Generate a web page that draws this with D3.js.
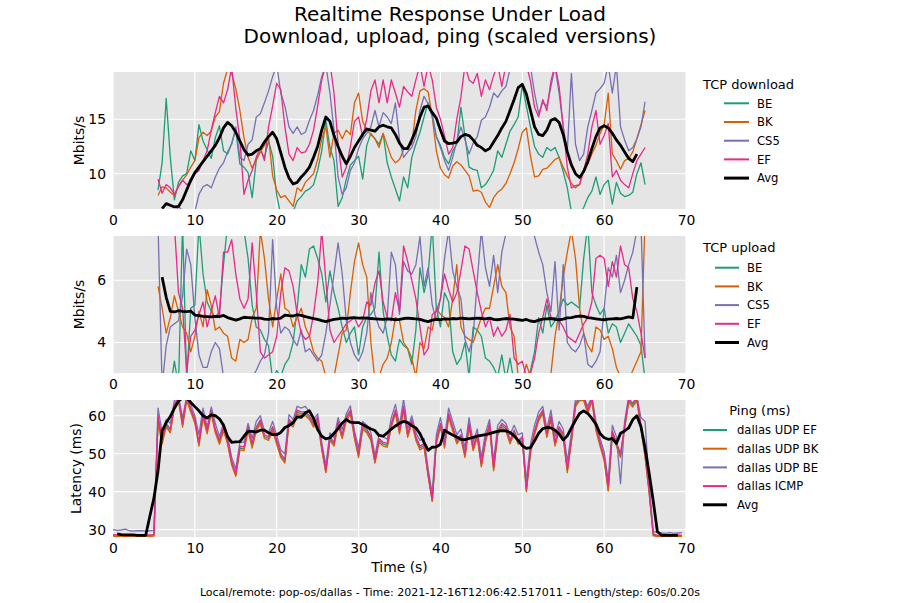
<!DOCTYPE html>
<html>
<head>
<meta charset="utf-8">
<script src="https://cdn.jsdelivr.net/npm/d3@7"></script>
<style>
  body { margin: 0; background: #fff; }
  svg { font-family: "DejaVu Sans", sans-serif; }
</style>
</head>
<body>
<div id="chart"></div>
<script>
// ---- data (0.5 s samples) ----
const step = 0.5;
const xTicks = [0, 10, 20, 30, 40, 50, 60, 70];
const colors = ["#1b9e77", "#d95f02", "#7570b3", "#e7298a"];
const tcpNames = ["BE", "BK", "CS5", "EF"];
const pingNames = ["dallas UDP EF", "dallas UDP BK", "dallas UDP BE", "dallas ICMP"];

// TCP download, Mbits/s, from t = 5.5
const dlStart = 5.5;
const dlBE = [8.5, 11, 16.9, 11.5, 7.6, 9.2, 9.8, 10, 12.1, 11.2,
  14.5, 13, 12.2, 11.4, 13.3, 14.4, 12.1, 11.8, 12.8, 14,
  10.9, 10.6, 10.1, 7.8, 11.2, 12.1, 11.5, 13, 11.6, 8,
  6.2, 5.8, 6.0, 6.5, 7.5, 7.9, 8.4, 8.6, 9, 10.3,
  12.1, 14.9, 12.4, 11.2, 7, 7.8, 9.5, 10.8, 11.2, 11.6,
  9.5, 12.6, 13.7, 13.2, 12.7, 13.7, 11.0, 9.7, 8.6, 7.5,
  9.7, 8.7, 11.5, 12.7, 13.8, 15.2, 16.5, 15.5, 13.4, 12.6,
  11.5, 10.9, 12.1, 12.7, 16.1, 13.4, 10.6, 10.4, 10.3, 8.7,
  9.0, 9.6, 10.3, 12.1, 11.5, 12.7, 13.9, 14.5, 15.2, 18.1,
  16.2, 14.3, 12.5, 11.8, 11.5, 12.4, 12.1, 12.4, 11.5, 10.2,
  8.7, 6.5, 6.0, 6.2, 6.9, 7.8, 8.4, 9.7, 8.1, 9.0,
  9.4, 7.2, 9.2, 8.2, 7.9, 8.0, 8.3, 10, 11, 9];
const dlBK = [8.0, 8.8, 8.7, 8.3, 8.0, 8.9, 9.4, 9.9, 10.6, 11.2,
  13.3, 13.8, 13.5, 13.9, 15.2, 15.7, 18.3, 19.6, 19.2, 17.8,
  15.8, 13.3, 11.5, 10.5, 11.3, 12, 12.6, 13.4, 9.8, 8.5,
  7.8, 8.0, 7.5, 7.0, 8.7, 8.4, 9.2, 9.6, 10, 11.3,
  13.2, 14.3, 11.5, 13.7, 14, 13.2, 14, 13.6, 16.5, 17.4,
  14.8, 14, 13.6, 13.2, 12.4, 13.7, 12.6, 11.5, 11.0, 11.3,
  12.2, 12.5, 12.7, 15.8, 17.6, 17.8, 17.5, 15.2, 12.1, 10.5,
  9.9, 9.6, 10.7, 11.1, 10.8, 10.3, 9.8, 8.4, 8.5, 8.3,
  7.4, 6.9, 7.8, 8.3, 8.6, 9.1, 10, 11.0, 12.3, 13.8,
  14.2, 11.6, 9.7, 9.8, 10.4, 10.5, 10.9, 11.3, 11.5, 10.6,
  9.8, 9.1, 8.7, 9.0, 10.4, 10.9, 11.8, 12.6, 13.7, 14.5,
  17.4, 11.8, 11.2, 10.4, 11.2, 11.4, 12, 13.2, 14.5, 15.8];
const dlCS5 = [6.0, 6.2, 6.0, 6.5, 6.3, 7.0, 6.6, 6.4, 6.3, 6.5,
  8.1, 8.8, 9.0, 8.7, 9.7, 10.5, 11.0, 12.0, 12.7, 14.3,
  11.5, 11.2, 12.7, 13.1, 15.2, 15.5, 16.5, 17.6, 18.9, 20,
  17.4, 16.2, 14.3, 13.7, 14.3, 13.6, 13.8, 14.9, 15.8, 17.2,
  18.9, 20, 17.4, 14.0, 9.7, 8.1, 8.7, 10.3, 11.0, 12.3,
  13.2, 13.7, 14.3, 15.8, 14.3, 15.6, 15.2, 14.6, 16.5, 13.1,
  11.5, 12.0, 12.4, 13.4, 15.8, 17.1, 16.4, 15.2, 13.4, 12.4,
  11.2, 10.3, 11.5, 13.0, 14.3, 13.1, 11.8, 12.8, 13.4, 14.9,
  15.2, 16.1, 17.4, 17.0, 17.6, 18.0, 19.6, 20.5, 21, 20.5,
  20, 19.8, 17.4, 15.5, 16.5, 16.2, 18, 19.8, 17.4, 14.3,
  12.1, 19.2, 12.7, 11.2, 11.8, 14.3, 15.8, 17.4, 17.8, 18.3,
  20, 17.4, 20, 14.3, 13.1, 12.1, 12.4, 13.2, 14.3, 16.6];
const dlEF = [9.5, 8.2, 9.0, 8.7, 8.1, 8.8, 9.4, 9.0, 9.2, 10.0,
  10.3, 11.2, 12.1, 14.0, 15.6, 17.1, 16.5, 17.7, 19.8, 16.0,
  13.1, 8.1, 9.4, 10.3, 11.5, 12.4, 11.2, 14.3, 16.2, 18.3,
  17.7, 14.3, 11.8, 11.2, 12.4, 11.9, 12.0, 12.7, 14.0, 16.2,
  18.6, 20, 20.2, 17.4, 12.7, 9.7, 10.6, 12.5, 14.8, 15.2,
  13.4, 15.0, 17.6, 18.6, 16.5, 18.6, 16.5, 18.6, 17.4, 16.1,
  18.0, 17.5, 17.1, 18.6, 20, 18.0, 20, 18.6, 16.1, 15.0,
  13.5, 11.8, 12.4, 15.0, 17.0, 20, 18.6, 18.3, 19.2, 17.1,
  18.6, 17.7, 19, 20, 18, 20, 20.5, 21, 20.5, 21,
  20, 18.5, 16.1, 15.2, 16.8, 15.8, 18.5, 20, 18, 14.3,
  10.6, 8.7, 8.9, 9.0, 10.3, 11.8, 14.3, 15.8, 12.7, 13.5,
  14.6, 9.7, 10.3, 9.4, 9.0, 8.7, 10.0, 11.2, 11.8, 12.4];
// average, from t = 6.0
const dlAvgStart = 6.0;
const dlAvg = [6.8, 7.25, 7.1, 6.95, 7.0, 7.6, 8.5, 9.4, 10.1,
  10.6, 11.1, 11.6, 12.1, 12.6, 13.3, 14.2, 14.7, 14.4, 13.8,
  13.0, 12.2, 11.7, 11.8, 12.1, 12.3, 12.9, 13.4, 13.8, 13.2,
  11.9, 10.6, 9.6, 9.05, 9.2, 9.7, 10.1, 10.6, 11.5, 12.5,
  14.0, 15.2, 14.8, 13.5, 12.5, 11.6, 10.9, 11.6, 12.4, 13.0,
  13.6, 14.1, 14.0, 13.9, 14.3, 14.45, 14.3, 14.2, 13.6, 12.8,
  12.3, 12.3, 13.1, 14.0, 15.2, 16.1, 16.2, 15.6, 15.1, 14.0,
  13.0, 12.75, 12.8, 12.9, 13.4, 13.6, 13.5, 13.1, 12.6, 12.4,
  12.1, 12.3, 12.9, 13.5, 14.2, 14.8, 15.8, 16.8, 17.9, 18.2,
  17.3, 15.8, 14.3, 13.6, 13.5, 14.0, 14.9, 15.05, 14.7, 13.6,
  12.0, 10.8, 10.0, 9.65, 10.2, 11.1, 12.3, 13.4, 14.2, 14.4,
  14.2, 13.7, 13.1, 12.6, 12.0, 11.4, 11.1, 11.8];

// TCP upload, Mbits/s, from t = 5.5
const ulStart = 5.5;
const ulBE = [2.5, 2.4, 2.6, 2.5, 3.4, 2.6, 7.8, 2.8, 5.1, 5.2,
  7.8, 6.2, 5.3, 5.0, 4.8, 5.0, 6.5, 7.8, 8.0, 8.2,
  8.0, 7.6, 6.7, 5.2, 4.5, 4.4, 4.1, 3.9, 2.8, 3.1,
  2.9, 3.3, 3.5, 4.0, 5.1, 6.5, 6.1, 7.0, 7.1, 6.7,
  6.2, 5.3, 6.3, 5.6, 5.1, 4.5, 4.0, 4.3, 4.5, 3.6,
  4.5, 4.8, 4.9, 5.1, 6.9, 5.0, 4.2, 3.6, 3.4, 4.1,
  3.9, 3.8, 3.3, 4.4, 6.4, 5.6, 6.2, 7.8, 5.1, 4.5,
  5.6, 5.3, 3.7, 3.3, 3.5, 4.0, 2.9, 4.5, 4.4, 4.2,
  3.5, 3.4, 3.2, 2.9, 3.6, 2.8, 3.5, 2.7, 2.6, 2.7,
  2.8, 3.1, 3.7, 4.8, 4.3, 5.2, 4.5, 4.7, 5.0, 5.4,
  5.2, 5.3, 5.2, 5.1, 6.7, 7.8, 5.6, 5.2, 4.9, 5.1,
  4.3, 4.6, 4.5, 4.0, 4.3, 4.6, 4.4, 4.2, 3.9, 2.8];
const ulBK = [5.8, 5.1, 4.3, 4.8, 5.5, 5.0, 4.5, 4.3, 3.7, 4.2,
  5.0, 4.5, 5.7, 5.2, 4.4, 4.5, 4.3, 4.2, 3.5, 3.4,
  4.1, 4.0, 4.1, 4.8, 5.1, 7.6, 6.7, 5.4, 4.5, 5.4,
  6.2, 5.1, 5.0, 4.5, 4.8, 5.1, 4.5, 4.2, 3.7, 3.5,
  3.4, 2.9, 2.7, 2.9, 3.6, 4.3, 4.4, 5.6, 6.6, 7.2,
  6.5, 6.1, 4.0, 2.8, 2.9, 3.3, 3.5, 4.0, 4.8, 4.7,
  4.0, 3.8, 3.5, 2.9, 4.0, 3.8, 4.5, 4.4, 5.1, 4.9,
  4.8, 4.5, 5.4, 6.5, 4.5, 4.2, 4.1, 4.0, 4.4, 4.8,
  5.1, 5.1, 5.8, 6.5, 5.8, 5.6, 4.5, 4.2, 2.9, 2.8,
  3.3, 2.9, 2.8, 2.6, 2.6, 2.8, 3.0, 4.2, 5.0, 6.1,
  6.9, 7.6, 6.7, 5.1, 4.3, 3.9, 3.7, 4.5, 4.4, 4.1,
  4.2, 3.8, 3.2, 2.9, 2.8, 2.8, 3.1, 3.4, 3.7, 8.0];
const ulCS5 = [7.8, 2.6, 3.9, 4.5, 4.6, 4.7, 5.5, 7.0, 6.5, 4.8,
  3.6, 3.2, 3.2, 3.7, 4.0, 3.8, 2.9, 2.6, 2.4, 2.3,
  2.4, 2.4, 2.6, 2.9, 3.1, 3.4, 3.6, 4.3, 7.3, 5.1,
  4.3, 4.5, 4.4, 4.1, 3.9, 4.4, 3.7, 3.8, 3.6, 3.4,
  3.6, 4.3, 5.2, 6.2, 7.2, 6.2, 4.7, 4.0, 3.6, 3.4,
  3.7, 4.3, 5.6, 4.9, 4.5, 4.3, 4.8, 6.9, 6.5, 4.9,
  6.6, 6.3, 6.2, 6.5, 7.4, 5.8, 6.4, 5.2, 4.7, 5.4,
  6.7, 7.6, 6.3, 5.8, 5.4, 4.1, 3.7, 4.2, 6.0, 7.6,
  6.4, 5.8, 6.8, 5.6, 6.9, 7.5, 7.8, 8.0, 8.2, 8.0,
  8.1, 7.8, 7.4, 6.9, 6.5, 5.6, 5.0, 6.6, 4.4, 6.5,
  4.0, 3.8, 3.7, 3.9, 4.3, 3.3, 3.2, 3.4, 3.7, 5.1,
  6.4, 6.1, 6.8, 5.6, 6.0, 6.5, 6.9, 7.6, 7.8, 3.5];
const ulEF = [7.8, 7.8, 7.6, 7.7, 7.8, 5.6, 5.1, 3.1, 4.2, 4.4,
  4.9, 5.3, 4.5, 5.0, 5.5, 4.8, 6.9, 6.9, 7.3, 6.2,
  5.4, 5.1, 5.4, 7.2, 5.6, 3.7, 3.5, 3.6, 3.7, 4.2,
  5.6, 6.4, 6.3, 5.8, 4.9, 4.3, 4.1, 4.2, 4.9, 5.9,
  7.6, 6.0, 4.4, 4.0, 4.2, 4.4, 4.6, 4.7, 4.8, 4.5,
  4.7, 5.3, 5.2, 5.9, 6.3, 5.3, 4.8, 4.7, 5.6, 5.0,
  7.1, 6.6, 6.0, 5.4, 4.5, 3.6, 3.8, 4.9, 5.0, 5.4,
  6.2, 5.7, 5.3, 5.6, 6.3, 7.1, 7.0, 6.3, 5.6, 5.0,
  4.5, 4.8, 4.2, 4.5, 4.2, 4.4, 4.9, 3.5, 3.3, 3.4,
  2.9, 3.0, 3.5, 4.3, 4.8, 5.4, 4.8, 4.8, 4.7, 4.5,
  4.2, 4.1, 4.0, 4.3, 4.6, 4.8, 5.3, 6.7, 6.8, 6.7,
  5.8, 6.6, 6.1, 7.1, 6.5, 6.4, 5.4, 5.0, 4.3, 3.5];
// average, from t = 6.0
const ulAvgStart = 6.0;
const ulAvg = [6.1, 5.45, 5.0, 4.98, 5.02, 5.0, 4.99, 5.01, 4.88,
  4.86, 4.84, 4.83, 4.82, 4.84, 4.83, 4.87, 4.8, 4.76, 4.72,
  4.76, 4.81, 4.8, 4.79, 4.78, 4.78, 4.75, 4.74, 4.77, 4.76,
  4.78, 4.88, 4.86, 4.85, 4.89, 4.87, 4.83, 4.8, 4.77, 4.74,
  4.7, 4.67, 4.71, 4.74, 4.76, 4.78, 4.77, 4.79, 4.8, 4.78,
  4.79, 4.78, 4.77, 4.76, 4.75, 4.74, 4.76, 4.75, 4.73, 4.74,
  4.77, 4.78, 4.77, 4.76, 4.74, 4.7, 4.67, 4.72, 4.74, 4.73,
  4.76, 4.75, 4.77, 4.76, 4.78, 4.77, 4.76, 4.77, 4.78, 4.77,
  4.76, 4.78, 4.74, 4.73, 4.75, 4.77, 4.76, 4.75, 4.73, 4.71,
  4.74, 4.69, 4.67, 4.72, 4.75, 4.76, 4.77, 4.74, 4.73, 4.75,
  4.79, 4.8, 4.83, 4.85, 4.84, 4.8, 4.78, 4.76, 4.74, 4.73,
  4.75, 4.76, 4.77, 4.76, 4.79, 4.82, 4.79, 5.78];

// Ping, ms, from t = 0
const pingStart = 0;
const pingEF = [28.4, 28.3, 28.4, 28.4, 28.3, 28.4, 28.4, 28.3, 28.4, 28.4,
  28.5, 59, 53.5, 57.5, 56, 62.5, 64.5, 57.5, 64.5, 61.5,
  58.5, 52.5, 60, 55.8, 61, 56, 53, 56.5, 53, 47.5,
  44.5, 51.5, 51.3, 56.6, 52.2, 56.5, 58.4, 54.5, 54, 56.6,
  53, 49.5, 48, 58.5, 57.5, 61, 60.5, 60.5, 59.5, 57.5,
  59.2, 51.5, 45.2, 54, 52.5, 58, 54.5, 59.2, 61, 54.5,
  49.5, 57, 56, 54, 47.8, 53.5, 52.5, 52.2, 57.5, 61,
  55.7, 62, 54.8, 58.4, 54, 51.5, 52.2, 44.3, 37.5, 53.1,
  57.5, 52, 60.1, 56.6, 53.1, 54.5, 49.5, 57.5, 51.3, 54.8,
  46.9, 53.5, 57.5, 46, 55.5, 57.5, 56.6, 53.1, 55.7, 53,
  54, 40.3, 50.5, 55.5, 59.2, 61, 54.8, 59.5, 52.5, 56.6,
  54.8, 45.5, 53.5, 62.8, 64.5, 64.5, 61, 64.5, 56.5, 52.5,
  48.7, 40.4, 55.5, 52.5, 49.5, 57, 64, 62.8, 64.5, 57,
  49.5, 40, 28.5, 28.3, 28.4, 28.3, 28.4, 28.3, 28.4, 28.3];
const pingBK = [28.3, 28.2, 28.3, 28.2, 28.3, 28.2, 28.3, 28.2, 28.3, 28.2,
  28.3, 58, 52.5, 57, 55.5, 62, 64, 57, 64, 61,
  58, 52, 59.5, 55.2, 60.5, 55.5, 52.5, 56, 52.5, 47,
  44, 51, 50.8, 56, 51.5, 56, 57.8, 54, 53.5, 56,
  52.5, 49, 47.5, 58, 57, 60.5, 60, 60, 59, 57,
  58.5, 51, 45, 53.5, 52, 57.5, 54, 58.5, 60.5, 54,
  49, 56.5, 55.5, 53.5, 47.5, 53, 52, 51.7, 57, 60.5,
  55.2, 61.5, 54.3, 58, 53.5, 51, 51.7, 44, 37.5, 52.6,
  57, 51.5, 59.5, 56, 52.6, 54, 49, 57, 50.8, 54.3,
  46.5, 53, 57, 45.5, 55, 57, 56, 52.6, 55.2, 52.5,
  53.5, 40, 50, 55, 58.7, 60.5, 54.3, 59, 52, 56,
  54.3, 45, 53, 62.3, 64, 64, 60.5, 64, 56, 52,
  48.2, 40.2, 55, 52, 49, 56.5, 63.5, 62.3, 64, 56.5,
  49, 39.5, 28.4, 28.2, 28.3, 28.2, 28.3, 28.2, 28.3, 28.2];
const pingBE = [30.0, 29.8, 29.9, 30.1, 29.7, 29.6, 29.7, 29.7, 29.6, 29.7,
  29.8, 62, 55.5, 59, 58, 64, 65, 59.5, 65, 63,
  60, 55, 62, 57, 62.3, 58, 54.5, 58, 54.5, 49,
  46, 53, 53, 58, 54, 58.5, 60, 56, 55.5, 58.5,
  54.8, 51, 50, 60.3, 59, 62.5, 62, 62.5, 61, 59,
  60.5, 53, 47, 55.5, 54.2, 59.5, 56.3, 60.5, 62.6, 56,
  51.5, 58.5, 57.5, 55.6, 49.5, 55, 54.5, 53.8, 59.5, 63,
  57.5, 64.5, 56.5, 60, 55.5, 53.5, 54, 46, 39.5, 55,
  59.5, 54, 62, 58.5, 55, 56.5, 51.5, 59.5, 53, 56.5,
  49, 55.5, 59, 48, 57.5, 59, 58, 55, 57.5, 55,
  55.5, 43, 52.5, 57.5, 61, 62.5, 56.5, 61.5, 54.5, 58.5,
  56.5, 48, 55.5, 64.5, 65, 65, 62.5, 65, 58.5, 54,
  50.5, 43, 57.5, 54.5, 42.1, 58.5, 65, 64.5, 65, 59.5,
  58.5, 42, 29.5, 29.2, 29.1, 29.0, 29.2, 29.0, 29.1, 29.2];
const pingICMP = [28.7, 28.6, 28.7, 28.6, 28.7, 28.6, 28.6, 28.7, 28.6, 28.6,
  28.7, 60, 54, 58, 56.5, 63, 65, 58, 65, 62,
  59, 53, 60.6, 56.2, 61.5, 56.5, 53.6, 57.1, 53.6, 48,
  44.8, 52, 51.8, 57.1, 52.7, 57, 58.9, 55, 54.5, 57.1,
  53.6, 50, 48.5, 59, 58, 61.5, 61, 61, 60, 58,
  59.7, 52, 45.7, 54.5, 53, 58.5, 55, 59.7, 61.5, 55,
  50, 57.5, 56.5, 54.5, 48.3, 54, 53, 52.7, 58, 61.5,
  56.2, 62.5, 55.3, 58.9, 54.5, 52, 52.7, 44.8, 38, 53.6,
  58, 52.5, 60.6, 57.1, 53.6, 55, 50, 58, 51.8, 55.3,
  47.4, 54, 58, 46.5, 56, 58, 57.1, 53.6, 56.2, 53.5,
  54.5, 40.8, 51, 56, 59.7, 61.5, 55.3, 60, 53, 57.1,
  55.3, 46, 54, 63.3, 65, 65, 61.5, 65, 57, 53,
  49.2, 41.5, 56, 53, 50, 57.5, 64.5, 63.3, 65, 57.5,
  50, 40.4, 28.9, 28.5, 28.6, 28.5, 28.6, 28.5, 28.6, 28.5];
// average, from t = 0.5
const pingAvgStart = 0.5;
const pingAvg = [28.9, 28.7, 28.6, 28.6, 28.6, 28.5, 28.5, 28.5, 33.5,
  38.3, 45.5, 56.0, 58.2, 59.8, 62.0, 63.8, 64.8, 64.8, 63.5,
  62.4, 61.3, 60.0, 59.4, 60.2, 60.0, 59.2, 57.5, 54.5, 53.0,
  53.1, 53.2, 54.6, 55.9, 55.9, 55.7, 56.2, 56.2, 55.5, 55.0,
  55.0, 55.6, 56.9, 57.4, 58.2, 59.7, 59.6, 60.8, 61.3, 59.3,
  56.4, 54.6, 53.9, 54.2, 55.4, 56.6, 58.1, 59.0, 58.3, 58.2,
  58.2, 57.7, 57.1, 56.5, 56.1, 54.8, 54.6, 55.5, 56.5, 57.3,
  58.0, 58.5, 58.2, 57.4, 56.8, 55.3, 53.0, 50.9, 51.7, 51.8,
  52.5, 56.2, 55.5, 54.9, 54.4, 53.8, 53.7, 54.0, 54.3, 54.6,
  54.8, 55.0, 55.3, 55.6, 55.9, 56.1, 56.0, 55.6, 54.7, 53.5,
  52.1, 51.4, 51.6, 53.4, 55.4, 56.6, 56.9, 56.8, 56.2, 55.2,
  53.6, 54.7, 56.8, 58.8, 60.6, 61.3, 60.6, 59.3, 57.8, 55.3,
  54.2, 53.8, 54.0, 52.7, 55.4, 56.0, 56.8, 59.0, 60.0, 57.1,
  51.5, 44.8, 37.5, 29.5, 28.5, 28.5, 28.5, 28.5, 28.5];

// ---- layout ----
const width = 900, height = 603;
const plotLeft = 113, plotRight = 686, panelH = 137;

const panels = [
  { top: 72, domain: [6.76, 19.33], ticks: [10, 15], ylabel: "Mbits/s", ylabelX: 84,
    series: [dlBE, dlBK, dlCS5, dlEF], start: dlStart, avg: dlAvg, avgStart: dlAvgStart,
    legendTitle: "TCP download", names: tcpNames,
    leg: { titleX: 703, titleY: 88.5, anchor: "start", x1: 724, x2: 749, labelX: 757, y0: 103.3 } },
  { top: 236, domain: [3.02, 7.42], ticks: [4, 6], ylabel: "Mbits/s", ylabelX: 84,
    series: [ulBE, ulBK, ulCS5, ulEF], start: ulStart, avg: ulAvg, avgStart: ulAvgStart,
    legendTitle: "TCP upload", names: tcpNames,
    leg: { titleX: 703, titleY: 252.3, anchor: "start", x1: 715, x2: 739, labelX: 747, y0: 267.7 } },
  { top: 400, domain: [28.05, 64.15], ticks: [30, 40, 50, 60], ylabel: "Latency (ms)", ylabelX: 81,
    series: [pingEF, pingBK, pingBE, pingICMP], start: pingStart, avg: pingAvg, avgStart: pingAvgStart,
    legendTitle: "Ping (ms)", names: pingNames,
    leg: { titleX: 760, titleY: 414.7, anchor: "middle", x1: 703, x2: 727, labelX: 737, y0: 430 } }
];

const svg = d3.select("#chart").append("svg")
  .attr("width", width)
  .attr("height", height)
  .attr("viewBox", [0, 0, width, height]);

const x = d3.scaleLinear().domain([0, 70]).range([plotLeft, plotRight]);

panels.forEach((p, pi) => {
  const y = d3.scaleLinear().domain(p.domain).range([p.top + panelH, p.top]);
  const g = svg.append("g");

  g.append("clipPath").attr("id", "clip" + pi)
    .append("rect")
    .attr("x", plotLeft).attr("y", p.top)
    .attr("width", plotRight - plotLeft).attr("height", panelH);

  g.append("rect")
    .attr("x", plotLeft).attr("y", p.top)
    .attr("width", plotRight - plotLeft).attr("height", panelH)
    .attr("fill", "#e5e5e5");

  // grid
  g.append("g").selectAll("line").data(xTicks).join("line")
    .attr("x1", d => x(d)).attr("x2", d => x(d))
    .attr("y1", p.top).attr("y2", p.top + panelH)
    .attr("stroke", "#fff").attr("stroke-width", 1.1);
  g.append("g").selectAll("line").data(p.ticks).join("line")
    .attr("x1", plotLeft).attr("x2", plotRight)
    .attr("y1", d => y(d)).attr("y2", d => y(d))
    .attr("stroke", "#fff").attr("stroke-width", 1.1);

  // axes (labels only, no tick marks)
  const xAxis = d3.axisBottom(x).tickValues(xTicks).tickSize(0).tickPadding(6.5)
    .tickFormat(d3.format("d"));
  g.append("g")
    .attr("transform", `translate(0,${p.top + panelH})`)
    .call(xAxis)
    .call(a => a.select(".domain").remove())
    .call(a => a.selectAll("text").attr("font-size", 13.9).attr("fill", "#000")
      .attr("font-family", "DejaVu Sans, sans-serif"));

  const yAxis = d3.axisLeft(y).tickValues(p.ticks).tickSize(0).tickPadding(7)
    .tickFormat(d3.format("d"));
  g.append("g")
    .attr("transform", `translate(${plotLeft},0)`)
    .call(yAxis)
    .call(a => a.select(".domain").remove())
    .call(a => a.selectAll("text").attr("font-size", 13.9).attr("fill", "#000")
      .attr("font-family", "DejaVu Sans, sans-serif"));

  g.append("text")
    .attr("transform", `translate(${p.ylabelX},${p.top + panelH / 2}) rotate(-90)`)
    .attr("text-anchor", "middle")
    .attr("font-size", 13.9)
    .text(p.ylabel);

  // lines
  const plot = g.append("g").attr("clip-path", `url(#clip${pi})`);
  p.series.forEach((s, si) => {
    const line = d3.line().x((d, i) => x(p.start + i * step)).y(d => y(d));
    plot.append("path")
      .attr("d", line(s))
      .attr("fill", "none")
      .attr("stroke", colors[si])
      .attr("stroke-width", 1.3)
      .attr("stroke-linejoin", "round");
  });
  const avgLine = d3.line().x((d, i) => x(p.avgStart + i * step)).y(d => y(d));
  plot.append("path")
    .attr("d", avgLine(p.avg))
    .attr("fill", "none")
    .attr("stroke", "#000")
    .attr("stroke-width", 2.8)
    .attr("stroke-linejoin", "round");

  // legend
  const L = p.leg;
  const lg = svg.append("g");
  lg.append("text")
    .attr("x", L.titleX).attr("y", L.titleY)
    .attr("text-anchor", L.anchor)
    .attr("font-size", 13)
    .text(p.legendTitle);
  const items = p.names.map((n, i) => ({ name: n, color: colors[i], w: 2 }))
    .concat([{ name: "Avg", color: "#000", w: 3 }]);
  const row = lg.selectAll("g.item").data(items).join("g")
    .attr("class", "item")
    .attr("transform", (d, i) => `translate(0,${L.y0 + i * 18.7})`);
  row.append("line")
    .attr("x1", L.x1).attr("x2", L.x2)
    .attr("stroke", d => d.color).attr("stroke-width", d => d.w);
  row.append("text")
    .attr("x", L.labelX).attr("y", 4.2)
    .attr("font-size", 11.6)
    .text(d => d.name);
});

// titles
svg.append("text").attr("x", 450).attr("y", 20.5).attr("text-anchor", "middle")
  .attr("font-size", 20).text("Realtime Response Under Load");
svg.append("text").attr("x", 450).attr("y", 43).attr("text-anchor", "middle")
  .attr("font-size", 20).text("Download, upload, ping (scaled versions)");
svg.append("text").attr("x", (plotLeft + plotRight) / 2).attr("y", 572).attr("text-anchor", "middle")
  .attr("font-size", 13.9).text("Time (s)");
svg.append("text").attr("x", 450).attr("y", 596).attr("text-anchor", "middle")
  .attr("font-size", 11)
  .text("Local/remote: pop-os/dallas - Time: 2021-12-16T12:06:42.517011 - Length/step: 60s/0.20s");
</script>
</body>
</html>
